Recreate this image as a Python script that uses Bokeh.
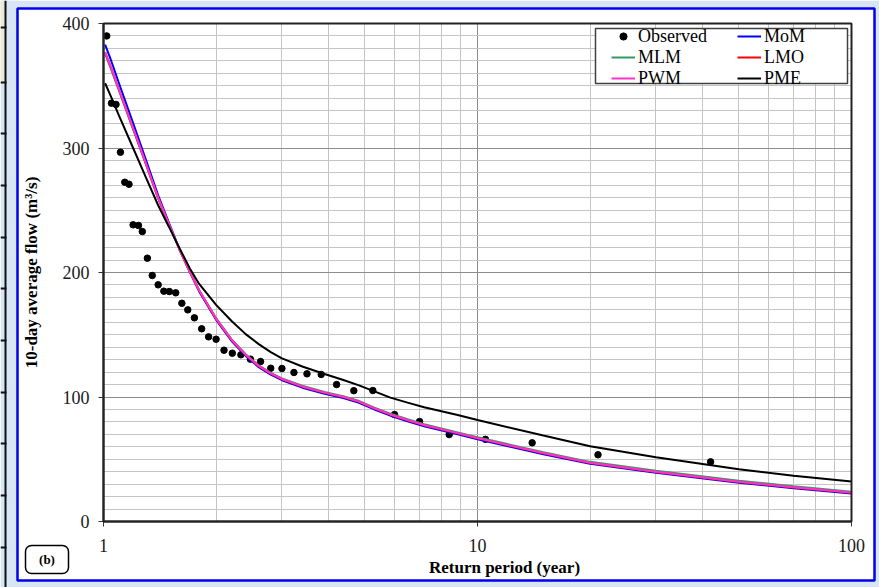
import math
from bokeh.plotting import figure
from bokeh.models import (BoxAnnotation, Label, Legend, LegendItem, FixedTicker,
                          NumeralTickFormatter)
from bokeh.embed import file_html
from bokeh.resources import INLINE

# ---------------- data ----------------
return_period_obs = [42.0, 21.0, 14.0, 10.5, 8.4, 7.0, 6.0, 5.25, 4.67, 4.2,
                     3.82, 3.5, 3.23, 3.0, 2.8, 2.63, 2.47, 2.33, 2.21, 2.1,
                     2.0, 1.91, 1.83, 1.75, 1.68, 1.62, 1.56, 1.5, 1.45, 1.4,
                     1.35, 1.31, 1.27, 1.24, 1.2, 1.17, 1.14, 1.11, 1.08, 1.05, 1.02]
flow_obs = [47.9, 53.6, 63.2, 66.0, 69.8, 80.3, 85.9, 105.2, 105.1, 110.0,
            118.1, 118.6, 119.7, 122.9, 123.1, 128.5, 130.4, 133.9, 135.2, 137.6,
            146.4, 148.3, 154.8, 163.6, 170.0, 175.3, 183.7, 184.7, 185.0, 190.1,
            197.6, 211.5, 232.9, 237.8, 238.3, 270.9, 272.5, 296.6, 335.0, 336.0, 390.0]

return_period_fit = [1.01, 1.05, 1.1, 1.2, 1.3, 1.4, 1.5, 1.6, 1.7, 1.8,
                     2.0, 2.2, 2.4, 2.6, 2.8, 3.0, 3.4, 3.9, 4.4, 4.8,
                     5.3, 5.85, 6.5, 7.2, 8.85, 10, 15, 20, 30, 50, 70, 100]
flow_mom = [383, 369.5, 352, 320, 290, 262, 239, 218, 200.5, 185,
            162, 145, 133, 124, 118, 113.5, 107.5, 102.5, 99, 95.5,
            90, 85, 80.5, 76.5, 70, 66, 54, 46.3, 39.2, 31.2, 26.8, 22.5]
flow_mlm = [375.5, 362.5, 346, 315, 286.5, 259.5, 237.5, 217.8, 201, 186,
            163.3, 146.3, 134.3, 125.4, 119.4, 115, 109, 104, 100.5, 97,
            91.5, 86.6, 82.1, 78.1, 71.6, 67.6, 55.7, 47.9, 40.7, 32.7, 28.3, 23.9]
flow_lmo = [376.8, 363.8, 346.8, 315.8, 286.8, 259.8, 237.8, 217.8, 200.8, 185.8,
            162.8, 145.8, 133.8, 124.8, 118.8, 114.3, 108.3, 103.3, 99.8, 96.3,
            90.8, 85.8, 81.3, 77.3, 70.8, 66.8, 54.8, 47.0, 39.8, 31.8, 27.4, 23.0]
flow_pwm = [377, 364, 347, 316, 287, 260, 238, 218, 201, 186,
            163, 146, 134, 125, 119, 114.5, 108.5, 103.5, 100, 96.5,
            91, 86, 81.5, 77.5, 71, 67, 55, 47.2, 40, 32, 27.6, 23.2]
flow_pme = [352, 340.5, 326, 300, 276, 254, 236, 219, 203.5, 191,
            174, 161, 150.5, 142.5, 136, 131, 124.5, 118.5, 113.5, 109.5,
            104.5, 99.5, 95.5, 91.8, 85.5, 81.5, 69, 60.5, 51.6, 42, 36.7, 32.1]

x_major_ticks = [1, 10, 100]
x_minor_ticks = [2, 3, 4, 5, 6, 7, 8, 9, 20, 30, 40, 50, 60, 70, 80, 90]
y_major_ticks = [0, 100, 200, 300, 400]
y_minor_ticks = [v for v in range(10, 400, 10) if v % 100]

# ---------------- layout constants (canvas pixels) ----------------
W, H = 879, 587
FL, FR, FT, FB = 103, 851, 23, 521          # plot area inside the canvas
X_MIN, X_MAX = 1, 100
Y_MIN, Y_MAX = 0, 400
SERIF = "Liberation Serif"


def dx(px):
    lo, hi = math.log10(X_MIN), math.log10(X_MAX)
    return 10 ** (lo + (px - FL) / (FR - FL) * (hi - lo))


def dy(py):
    return Y_MIN + (FB - py) / (FB - FT) * (Y_MAX - Y_MIN)


def box(l, r, t, b, fill=None, line=None, lw=1.0, **kw):
    return BoxAnnotation(left=dx(l), right=dx(r), top=dy(t), bottom=dy(b),
                         fill_color=fill, fill_alpha=1 if fill else 0,
                         line_color=line, line_alpha=1, line_width=lw, **kw)


# the frame spans the whole canvas; axes are pinned at the plot-area edges
p = figure(width=W, height=H, x_axis_type="log", x_range=(dx(0), dx(W)),
           y_range=(dy(H), dy(0)), output_backend="svg", toolbar_location=None,
           min_border=0, min_border_left=0, min_border_right=0,
           min_border_top=0, min_border_bottom=0,
           border_fill_color="white", background_fill_color="white")
p.outline_line_color = None

p.xaxis.fixed_location = Y_MIN
p.yaxis.fixed_location = X_MIN
p.xaxis.bounds = (X_MIN, X_MAX)
p.yaxis.bounds = (Y_MIN, Y_MAX)

xt = FixedTicker(ticks=x_major_ticks, minor_ticks=x_minor_ticks)
yt = FixedTicker(ticks=y_major_ticks, minor_ticks=y_minor_ticks)
p.xaxis.ticker = xt
p.yaxis.ticker = yt
p.xaxis.formatter = NumeralTickFormatter(format="0")

for ax in (p.xaxis[0], p.yaxis[0]):
    ax.axis_line_color = "#333333"
    ax.axis_line_width = 2
    ax.major_tick_line_color = "#333333"
    ax.major_tick_out = 5
    ax.major_tick_in = 0
    ax.minor_tick_line_color = None
    ax.major_label_text_font = SERIF
    ax.major_label_text_font_size = "18px"
    ax.major_label_text_color = "#1a1a1a"
p.yaxis.major_label_standoff = 9
p.xaxis.major_label_standoff = 12

p.yaxis.axis_label = "10-day average flow (m³/s)"
p.yaxis.axis_label_text_font = SERIF
p.yaxis.axis_label_text_font_style = "bold"
p.yaxis.axis_label_text_font_size = "17px"
p.yaxis.axis_label_text_color = "#000000"
p.yaxis.axis_label_standoff = 19

p.xgrid.ticker = xt
p.ygrid.ticker = yt
p.xgrid.cross_bounds = (Y_MIN, Y_MAX)
p.ygrid.cross_bounds = (X_MIN, X_MAX)
for g in (p.xgrid[0], p.ygrid[0]):
    g.grid_line_color = "#8c8c8c"
    g.grid_line_width = 1
    g.minor_grid_line_color = "#c4c4c4"
    g.minor_grid_line_width = 1

# series (Excel order)
r_obs = p.scatter(return_period_obs, flow_obs, size=6.5, color="black")
r_mom = p.line(return_period_fit, flow_mom, line_color="#0000ff", line_width=2)
r_mlm = p.line(return_period_fit, flow_mlm, line_color="#339966", line_width=2)
r_lmo = p.line(return_period_fit, flow_lmo, line_color="#ff0000", line_width=2)
r_pwm = p.line(return_period_fit, flow_pwm, line_color="#ff33cc", line_width=2)
r_pme = p.line(return_period_fit, flow_pme, line_color="#000000", line_width=2)

# top and right border of the plot area
p.add_layout(BoxAnnotation(left=X_MIN, right=X_MAX, bottom=Y_MIN, top=Y_MAX,
                           fill_alpha=0, line_color="#222222", line_alpha=1,
                           line_width=2))

# legend box
p.add_layout(box(595, 847, 28, 83, fill="white", line="#404040", lw=1.5))


def make_legend(items, left_px):
    leg = Legend(items=items, location=(left_px, H - 88.5), padding=0, spacing=0,
                 margin=0, glyph_width=24, glyph_height=18, label_height=18,
                 label_standoff=3, label_text_font=SERIF, label_text_font_size="18px",
                 label_text_color="black", background_fill_alpha=0,
                 border_line_color=None)
    return leg


p.add_layout(make_legend([LegendItem(label="Observed", renderers=[r_obs]),
                          LegendItem(label="MLM", renderers=[r_mlm]),
                          LegendItem(label="PWM", renderers=[r_pwm])], 611))
p.add_layout(make_legend([LegendItem(label="MoM", renderers=[r_mom]),
                          LegendItem(label="LMO", renderers=[r_lmo]),
                          LegendItem(label="PME", renderers=[r_pme])], 737))

# x axis title
p.add_layout(Label(x=dx(504), y=dy(567), text="Return period (year)",
                   text_align="center", text_baseline="middle",
                   text_font=SERIF, text_font_style="bold", text_font_size="17px",
                   text_color="black"))

# "(b)" panel tag
p.add_layout(box(25, 68, 545, 573, fill="white", line="black", lw=1.5, border_radius=6))
p.add_layout(Label(x=dx(46.5), y=dy(559), text="(b)", text_align="center",
                   text_baseline="middle", text_font=SERIF, text_font_style="bold",
                   text_font_size="13px", text_color="black"))

# light-blue surround and blue frame of the panel
BG = "#d8e5f5"
for l, r, t, b in [(0, 17, 0, H), (874, W, 0, H), (0, W, 0, 8), (0, W, 580, H)]:
    p.add_layout(box(l, r, t, b, fill=BG))
p.add_layout(box(17, 874, 8, 580, line="#0000ee", lw=2.5))

# remnants of a table at the far left edge
p.add_layout(box(0, 5, 0, 82, fill="#ece9d8"))
p.add_layout(box(4, 6, 0, H, fill="#111111"))
table_rule_px = [27, 82, 133, 185, 237, 288, 340, 392, 443, 495, 547]
for ry in table_rule_px:
    p.add_layout(box(0, 6, ry - 1, ry + 1, fill="#111111"))

open("out.html", "w").write(file_html(p, INLINE))
